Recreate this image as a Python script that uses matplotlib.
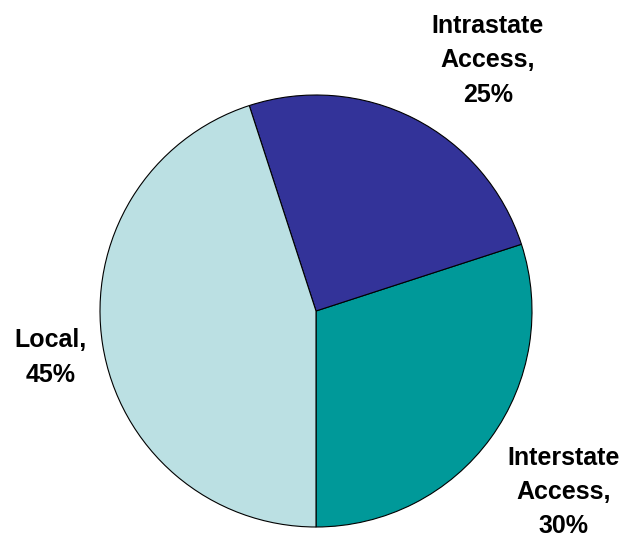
import matplotlib.pyplot as plt

labels = ['Interstate\nAccess,\n30%', 'Intrastate\nAccess,\n25%', 'Local,\n45%']
shares = [30, 25, 45]
colors = ['#009999', '#333399', '#BBE0E3']
label_pos = [(1.148, -0.838), (0.796, 1.16), (-1.227, -0.215)]

W, H = 631, 538
cx, cy, r = 316, 311, 216

fig = plt.figure(figsize=(W / 100, H / 100), dpi=100)
ax = fig.add_axes([(cx - r) / W, (H - cy - r) / H, 2 * r / W, 2 * r / H])
ax.pie(shares, colors=colors, startangle=-90, counterclock=True, radius=1,
       wedgeprops=dict(edgecolor='black', linewidth=0.8))
ax.set_xlim(-1, 1)
ax.set_ylim(-1, 1)
ax.set_aspect('equal')
ax.axis('off')

for txt, (x, y) in zip(labels, label_pos):
    ax.text(x, y, txt, ha='center', va='center', fontsize=18, fontweight='bold',
            family='Liberation Sans', linespacing=1.55, clip_on=False)

fig.savefig('out.png', dpi=100)
